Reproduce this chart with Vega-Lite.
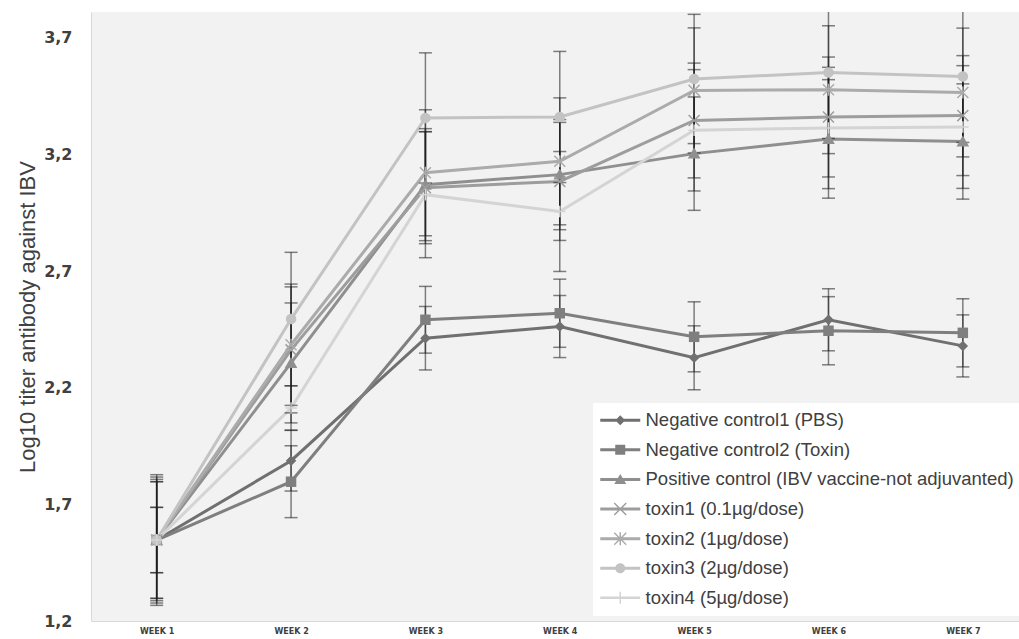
{
  "$schema": "https://vega.github.io/schema/vega-lite/v6.json",
  "width": 928,
  "height": 609,
  "autosize": {"type": "none"},
  "padding": {"left": 91, "top": 12, "right": 0, "bottom": 18},
  "background": "white",
  "config": {"view": {"fill": "#f2f2f2", "stroke": null}},
  "data": {"values": [
    {"series": "Negative control1 (PBS)", "week": 1, "mean": 1.547, "err": 0.14},
    {"series": "Negative control1 (PBS)", "week": 2, "mean": 1.887, "err": 0.13},
    {"series": "Negative control1 (PBS)", "week": 3, "mean": 2.412, "err": 0.136},
    {"series": "Negative control1 (PBS)", "week": 4, "mean": 2.462, "err": 0.133},
    {"series": "Negative control1 (PBS)", "week": 5, "mean": 2.328, "err": 0.137},
    {"series": "Negative control1 (PBS)", "week": 6, "mean": 2.491, "err": 0.133},
    {"series": "Negative control1 (PBS)", "week": 7, "mean": 2.379, "err": 0.133},
    {"series": "Negative control2 (Toxin)", "week": 1, "mean": 1.547, "err": 0.14},
    {"series": "Negative control2 (Toxin)", "week": 2, "mean": 1.797, "err": 0.154},
    {"series": "Negative control2 (Toxin)", "week": 3, "mean": 2.491, "err": 0.143},
    {"series": "Negative control2 (Toxin)", "week": 4, "mean": 2.519, "err": 0.146},
    {"series": "Negative control2 (Toxin)", "week": 5, "mean": 2.418, "err": 0.15},
    {"series": "Negative control2 (Toxin)", "week": 6, "mean": 2.444, "err": 0.146},
    {"series": "Negative control2 (Toxin)", "week": 7, "mean": 2.435, "err": 0.146},
    {"series": "Positive control (IBV vaccine-not adjuvanted)", "week": 1, "mean": 1.547, "err": 0.27},
    {"series": "Positive control (IBV vaccine-not adjuvanted)", "week": 2, "mean": 2.306, "err": 0.257},
    {"series": "Positive control (IBV vaccine-not adjuvanted)", "week": 3, "mean": 3.07, "err": 0.24},
    {"series": "Positive control (IBV vaccine-not adjuvanted)", "week": 4, "mean": 3.113, "err": 0.236},
    {"series": "Positive control (IBV vaccine-not adjuvanted)", "week": 5, "mean": 3.203, "err": 0.243},
    {"series": "Positive control (IBV vaccine-not adjuvanted)", "week": 6, "mean": 3.266, "err": 0.254},
    {"series": "Positive control (IBV vaccine-not adjuvanted)", "week": 7, "mean": 3.255, "err": 0.247},
    {"series": "toxin1 (0.1µg/dose)", "week": 1, "mean": 1.547, "err": 0.25},
    {"series": "toxin1 (0.1µg/dose)", "week": 2, "mean": 2.362, "err": 0.27},
    {"series": "toxin1 (0.1µg/dose)", "week": 3, "mean": 3.057, "err": 0.24},
    {"series": "toxin1 (0.1µg/dose)", "week": 4, "mean": 3.084, "err": 0.253},
    {"series": "toxin1 (0.1µg/dose)", "week": 5, "mean": 3.345, "err": 0.246},
    {"series": "toxin1 (0.1µg/dose)", "week": 6, "mean": 3.36, "err": 0.257},
    {"series": "toxin1 (0.1µg/dose)", "week": 7, "mean": 3.366, "err": 0.257},
    {"series": "toxin2 (1µg/dose)", "week": 1, "mean": 1.547, "err": 0.28},
    {"series": "toxin2 (1µg/dose)", "week": 2, "mean": 2.384, "err": 0.26},
    {"series": "toxin2 (1µg/dose)", "week": 3, "mean": 3.121, "err": 0.27},
    {"series": "toxin2 (1µg/dose)", "week": 4, "mean": 3.17, "err": 0.272},
    {"series": "toxin2 (1µg/dose)", "week": 5, "mean": 3.474, "err": 0.268},
    {"series": "toxin2 (1µg/dose)", "week": 6, "mean": 3.477, "err": 0.274},
    {"series": "toxin2 (1µg/dose)", "week": 7, "mean": 3.465, "err": 0.276},
    {"series": "toxin3 (2µg/dose)", "week": 1, "mean": 1.547, "err": 0.26},
    {"series": "toxin3 (2µg/dose)", "week": 2, "mean": 2.494, "err": 0.286},
    {"series": "toxin3 (2µg/dose)", "week": 3, "mean": 3.356, "err": 0.279},
    {"series": "toxin3 (2µg/dose)", "week": 4, "mean": 3.36, "err": 0.281},
    {"series": "toxin3 (2µg/dose)", "week": 5, "mean": 3.523, "err": 0.277},
    {"series": "toxin3 (2µg/dose)", "week": 6, "mean": 3.551, "err": 0.283},
    {"series": "toxin3 (2µg/dose)", "week": 7, "mean": 3.534, "err": 0.283},
    {"series": "toxin4 (5µg/dose)", "week": 1, "mean": 1.547, "err": 0.25},
    {"series": "toxin4 (5µg/dose)", "week": 2, "mean": 2.113, "err": 0.095},
    {"series": "toxin4 (5µg/dose)", "week": 3, "mean": 3.027, "err": 0.27},
    {"series": "toxin4 (5µg/dose)", "week": 4, "mean": 2.955, "err": 0.257},
    {"series": "toxin4 (5µg/dose)", "week": 5, "mean": 3.303, "err": 0.26},
    {"series": "toxin4 (5µg/dose)", "week": 6, "mean": 3.313, "err": 0.26},
    {"series": "toxin4 (5µg/dose)", "week": 7, "mean": 3.317, "err": 0.263}
  ]},
  "encoding": {
    "x": {"field": "week", "type": "quantitative",
      "scale": {"domain": [0.511, 7.418], "nice": false, "zero": false},
      "axis": {"values": [1, 2, 3, 4, 5, 6, 7], "labelExpr": "'WEEK ' + datum.value", "title": null, "grid": false, "ticks": false,
        "domainColor": "#d9d9d9", "labelFont": "DejaVu Sans", "labelFontWeight": "bold", "labelFontSize": 8, "labelColor": "#404040", "labelPadding": 6}},
    "y": {"field": "mean", "type": "quantitative",
      "scale": {"domain": [1.2, 3.81], "nice": false, "zero": false},
      "axis": {"values": [1.2, 1.7, 2.2, 2.7, 3.2, 3.7], "labelExpr": "replace(format(datum.value, '.1f'), '.', ',')",
        "title": "Log10 titer antibody against IBV", "grid": false, "ticks": false, "domainColor": "#d9d9d9",
        "labelFont": "DejaVu Sans", "labelFontWeight": "bold", "labelFontSize": 16, "labelColor": "#404040", "labelPadding": 19,
        "titleFont": "Liberation Sans", "titleFontSize": 22, "titleFontWeight": "normal", "titleColor": "#404040", "titlePadding": 4}}
  },
  "layer": [
    {
      "mark": {"type": "line", "strokeWidth": 3},
      "encoding": {
        "color": {"field": "series", "type": "nominal", "legend": null,
          "scale": {"domain": ["Negative control1 (PBS)", "Negative control2 (Toxin)", "Positive control (IBV vaccine-not adjuvanted)", "toxin1 (0.1µg/dose)", "toxin2 (1µg/dose)", "toxin3 (2µg/dose)", "toxin4 (5µg/dose)"],
            "range": ["#707070", "#7f7f7f", "#8f8f8f", "#9d9d9d", "#ababab", "#c3c3c3", "#d4d4d4"]}}
      }
    },
    {
      "mark": {"type": "errorbar", "ticks": {"size": 13}, "thickness": 1.5, "color": "#1e1e1e", "opacity": 0.55, "clip": true},
      "encoding": {
        "yError": {"field": "err"},
        "detail": {"field": "series", "type": "nominal"}
      }
    },
    {
      "mark": {"type": "point", "filled": true, "opacity": 1, "size": 110},
      "encoding": {
        "color": {"field": "series", "type": "nominal", "legend": null,
          "scale": {"domain": ["Negative control1 (PBS)", "Negative control2 (Toxin)", "Positive control (IBV vaccine-not adjuvanted)", "toxin1 (0.1µg/dose)", "toxin2 (1µg/dose)", "toxin3 (2µg/dose)", "toxin4 (5µg/dose)"],
            "range": ["#707070", "#7f7f7f", "#8f8f8f", "#9d9d9d", "#ababab", "#c3c3c3", "#d4d4d4"]}},
        "shape": {"field": "series", "type": "nominal", "legend": null,
          "scale": {"domain": ["Negative control1 (PBS)", "Negative control2 (Toxin)", "Positive control (IBV vaccine-not adjuvanted)", "toxin1 (0.1µg/dose)", "toxin2 (1µg/dose)", "toxin3 (2µg/dose)", "toxin4 (5µg/dose)"],
            "range": [
              "M0,-1L1,0L0,1L-1,0Z",
              "M-1,-1L1,-1L1,1L-1,1Z",
              "M0,-1.15L1.2,0.95L-1.2,0.95Z",
              "M-0.95,-1.15L1.15,0.95L0.95,1.15L-1.15,-0.95Z M1.15,-0.95L-0.95,1.15L-1.15,0.95L0.95,-1.15Z",
              "M-0.95,-1.15L1.15,0.95L0.95,1.15L-1.15,-0.95Z M1.15,-0.95L-0.95,1.15L-1.15,0.95L0.95,-1.15Z M-0.14,-1.15L0.14,-1.15L0.14,1.15L-0.14,1.15Z",
              "M-1,0A1,1 0 1,1 1,0A1,1 0 1,1 -1,0Z",
              "M-0.14,-1.1L0.14,-1.1L0.14,1.1L-0.14,1.1Z M-1.1,-0.14L1.1,-0.14L1.1,0.14L-1.1,0.14Z"
            ]}}
      }
    },
    {
      "transform": [{"filter": "datum.week > 99"}],
      "mark": {"type": "point", "filled": true, "opacity": 1, "size": 100},
      "encoding": {
        "color": {"field": "series", "type": "nominal",
          "scale": {"domain": ["Negative control1 (PBS)", "Negative control2 (Toxin)", "Positive control (IBV vaccine-not adjuvanted)", "toxin1 (0.1µg/dose)", "toxin2 (1µg/dose)", "toxin3 (2µg/dose)", "toxin4 (5µg/dose)"],
            "range": ["#707070", "#7f7f7f", "#8f8f8f", "#9d9d9d", "#ababab", "#c3c3c3", "#d4d4d4"]},
          "legend": {"orient": "none", "legendX": 502, "legendY": 391, "title": null, "fillColor": "white", "padding": 8,
            "symbolSize": 100, "symbolOffset": 10, "labelOffset": 16, "rowPadding": 10.6, "symbolStrokeWidth": 0, "symbolOpacity": 1,
            "labelFont": "Liberation Sans", "labelFontSize": 18.5, "labelColor": "#404040", "labelLimit": 600}},
        "shape": {"field": "series", "type": "nominal",
          "scale": {"domain": ["Negative control1 (PBS)", "Negative control2 (Toxin)", "Positive control (IBV vaccine-not adjuvanted)", "toxin1 (0.1µg/dose)", "toxin2 (1µg/dose)", "toxin3 (2µg/dose)", "toxin4 (5µg/dose)"],
            "range": [
              "M-4,-0.3L4,-0.3L4,0.3L-4,0.3Z M0,-1L1,0L0,1L-1,0Z",
              "M-4,-0.3L4,-0.3L4,0.3L-4,0.3Z M-1,-1L1,-1L1,1L-1,1Z",
              "M-4,-0.3L4,-0.3L4,0.3L-4,0.3Z M0,-1.1L1.2,0.9L-1.2,0.9Z",
              "M-4,-0.3L4,-0.3L4,0.3L-4,0.3Z M-1.1,-1.3L1.3,1.1L1.1,1.3L-1.3,-1.1Z M1.3,-1.1L-1.1,1.3L-1.3,1.1L1.1,-1.3Z",
              "M-4,-0.3L4,-0.3L4,0.3L-4,0.3Z M-1.1,-1.3L1.3,1.1L1.1,1.3L-1.3,-1.1Z M1.3,-1.1L-1.1,1.3L-1.3,1.1L1.1,-1.3Z M-0.15,-1.3L0.15,-1.3L0.15,1.3L-0.15,1.3Z",
              "M-4,-0.3L4,-0.3L4,0.3L-4,0.3Z M-1,0A1,1 0 1,1 1,0A1,1 0 1,1 -1,0Z",
              "M-4,-0.25L4,-0.25L4,0.25L-4,0.25Z M-0.15,-1.2L0.15,-1.2L0.15,1.2L-0.15,1.2Z"
            ]},
          "legend": {"orient": "none", "legendX": 502, "legendY": 391, "title": null, "fillColor": "white", "padding": 8,
            "symbolSize": 100, "symbolOffset": 10, "labelOffset": 16, "rowPadding": 10.6, "symbolStrokeWidth": 0, "symbolOpacity": 1,
            "labelFont": "Liberation Sans", "labelFontSize": 18.5, "labelColor": "#404040", "labelLimit": 600}}
      }
    }
  ],
  "resolve": {"scale": {"color": "independent", "shape": "independent"}}
}
